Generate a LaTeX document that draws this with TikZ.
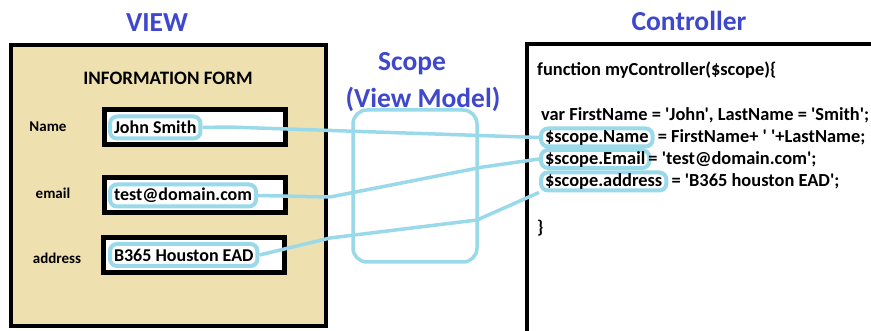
\documentclass[tikz,border=0pt]{standalone}
\usepackage{fontspec}
\setmainfont{Carlito}[Ligatures=TeXOff]
\usetikzlibrary{positioning}

\definecolor{viewtan}{HTML}{EFE0AF}
\definecolor{hlblue}{HTML}{99D9EA}
\definecolor{titleblue}{HTML}{3F48CC}

\tikzset{
  heading/.style={font=\bfseries\fontsize{27.5}{32}\selectfont, text=titleblue},
  fieldbox/.style={draw=black, line width=4.5pt, fill=white,
    minimum width=181pt, minimum height=35pt},
  fieldname/.style={font=\bfseries\fontsize{15}{18}\selectfont},
  hl/.style={draw=hlblue, line width=4pt, rounded corners=7pt, inner xsep=4pt},
  entry/.style={hl, font=\bfseries\fontsize{18}{22}\selectfont,
    anchor=west, inner ysep=0pt, minimum height=22pt},
  code/.style={font=\bfseries\fontsize{18.4}{22}\selectfont, anchor=west, inner sep=0pt},
  codehl/.style={hl, code, inner xsep=4pt, minimum height=18pt},
  wire/.style={hlblue, line width=3.5pt, line join=round},
}

\begin{document}
\begin{tikzpicture}[x=1pt, y=-1pt]
  \useasboundingbox (0,0) rectangle (871,331);
  \fill[white] (0,0) rectangle (871,331);

  % view side
  \node[heading] (view) at (157,23) {VIEW};
  \draw[line width=4.5pt, fill=viewtan] (11,45) rectangle (326,326);
  \node[font=\bfseries\fontsize{19}{22}\selectfont] (form) at (168,78) {INFORMATION FORM};

  \node[fieldbox] (namefield) at (195,127) {};
  \node[fieldbox] (mailfield) at (195,195) {};
  \node[fieldbox] (addrfield) at (194,255) {};

  \node[fieldname] (namelbl) at (48,127) {Name};
  \node[fieldname] (maillbl) at (53,193) {email};
  \node[fieldname] (addrlbl) at (57,258) {address};

  \node[entry] (john) at (108,127.5) {John Smith};
  \node[entry] (testmail) at (108,195.5) {test@domain.com};
  \node[entry] (baddr) at (108,255) {B365 Houston EAD};

  % scope in the middle
  \node[heading] (scope) at (412,64) {Scope};
  \node[heading] (vm) at (423,99) {(View Model)};
  \node[draw=hlblue, line width=3.5pt, rounded corners=14pt,
    minimum width=124pt, minimum height=152pt] (scopebox) at (415,186) {};

  % controller side
  \node[heading] (ctrl) at (689,21) {Controller};
  \draw[line width=4.5pt] (527,44) rectangle (895,350);

  \node[code] (fn) at (537,70) {function myController(\$scope)\{};
  \node[code] (varline) at (541,115) {var FirstName = 'John', LastName = 'Smith';};
  \node[codehl] (sname) at (539,137.5) {\$scope.Name};
  \node[code, right=3pt of sname] (namerest) {= FirstName+ ' '+LastName;};
  \node[codehl] (semail) at (539,159) {\$scope.Email\hspace{5pt}};
  \node[code, right=-3pt of semail] (emailrest) {= 'test@domain.com';};
  \node[codehl] (saddr) at (539,181.5) {\$scope.address};
  \node[code, right=3pt of saddr] (addrrest) {= 'B365 houston EAD';};
  \node[code] (closing) at (537,228) {\}};

  % bindings
  \draw[wire] (john.east) -- (228,127) -- (sname.west);
  \draw[wire] (testmail.east) -- (330,197) -- (483,167) -- (semail.west);
  \draw[wire] (baddr.east) -- (330,238) -- (477,220) -- (saddr.south west);
\end{tikzpicture}
\end{document}
